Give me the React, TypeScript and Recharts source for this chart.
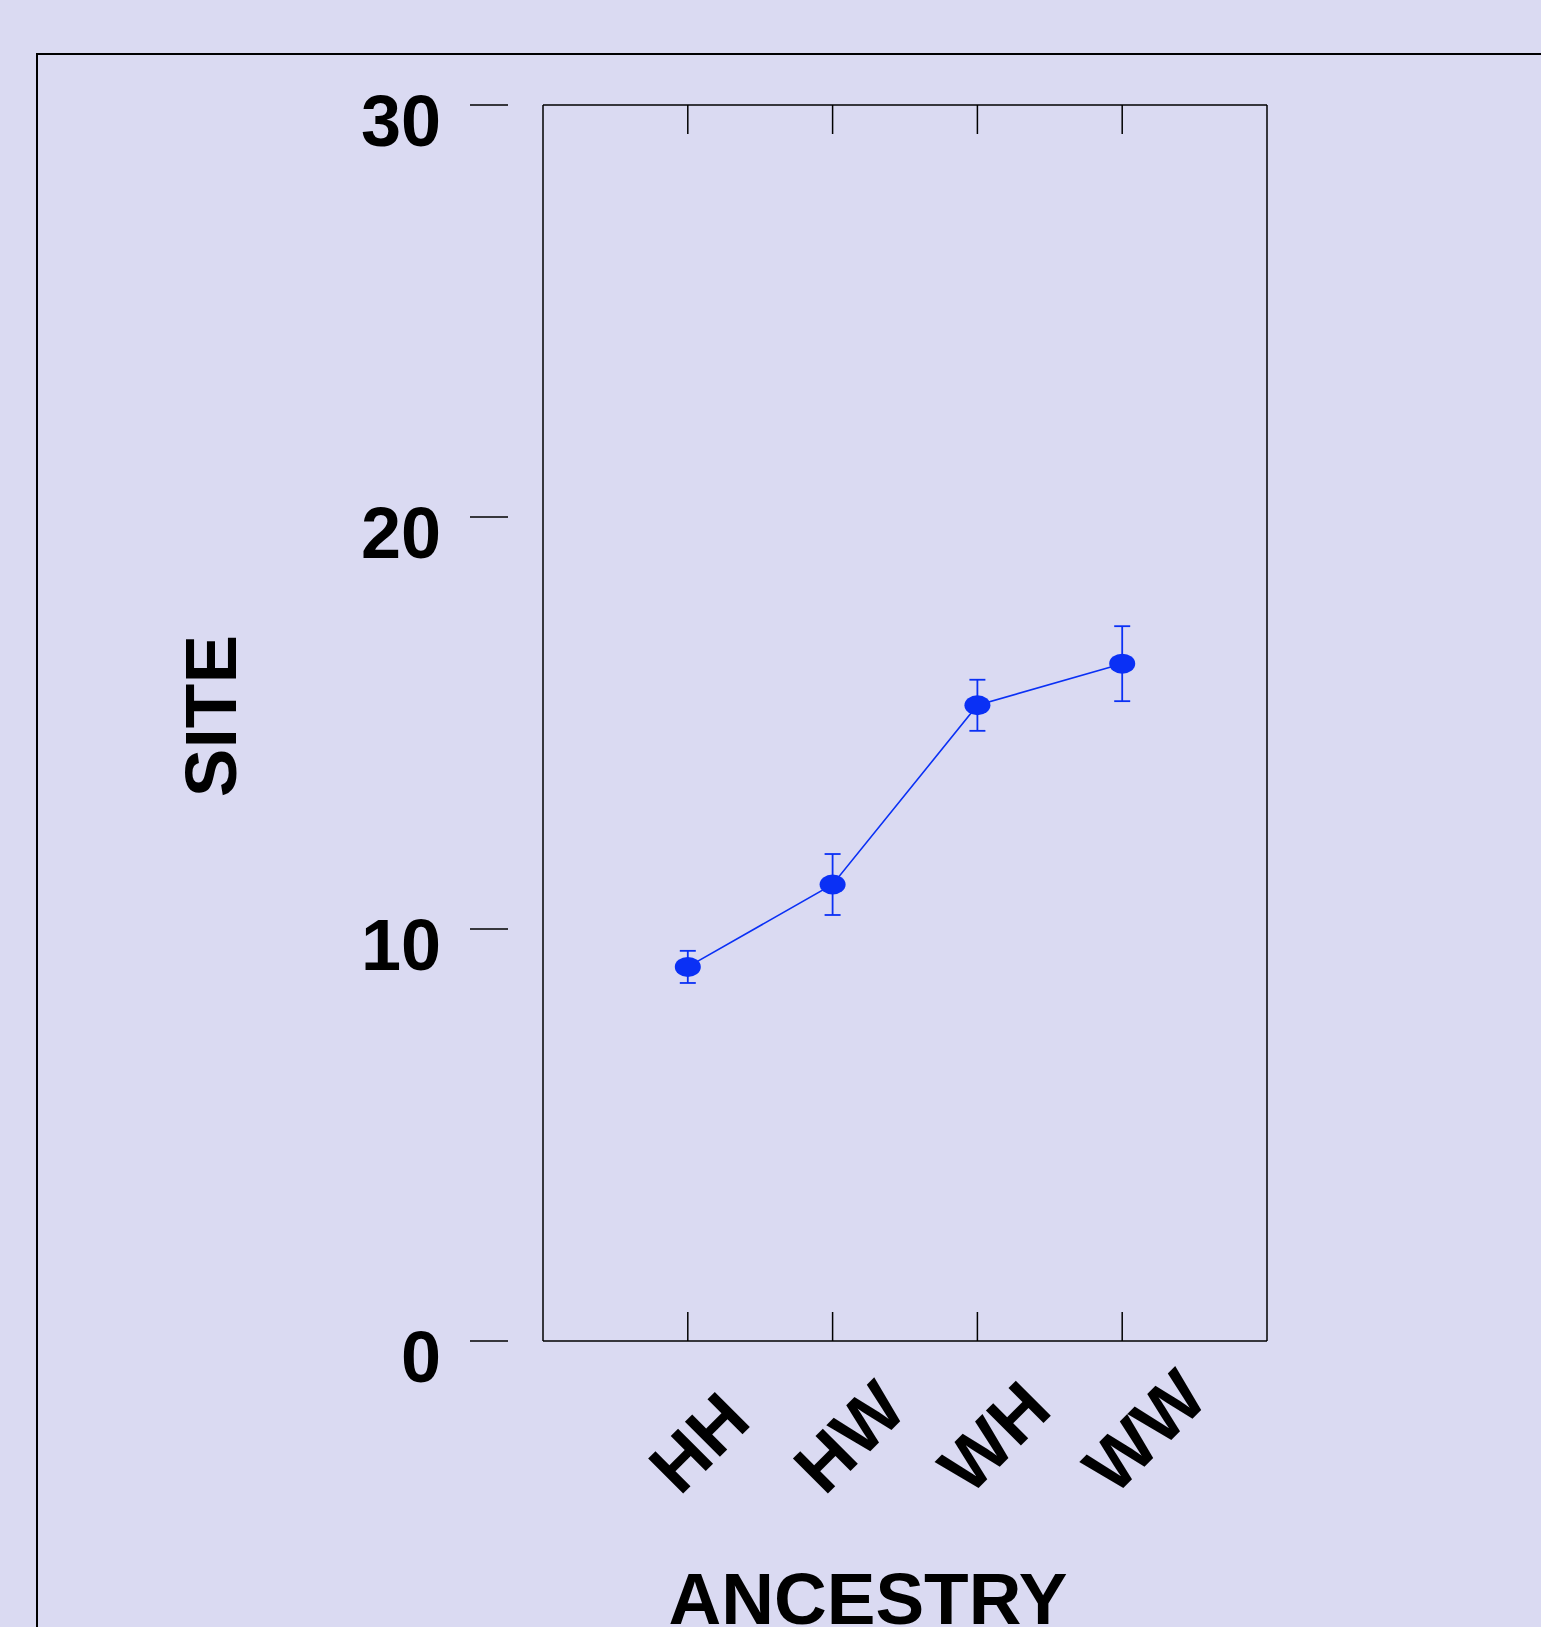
import { ErrorBar, Line, LineChart, XAxis, YAxis } from "recharts";

const categories = ["HH", "HW", "WH", "WW"];
const siteMeans = [9.08, 11.08, 15.43, 16.44];
const siteErrors = [0.39, 0.74, 0.62, 0.91];
const yTicks = [0, 10, 20, 30];
const xPositions = [1, 2, 3, 4];

const data = categories.map((c, i) => ({
  pos: xPositions[i],
  ancestry: c,
  site: siteMeans[i],
  err: siteErrors[i],
}));

const BLUE = "#0a30f5";
const FONT = '"Liberation Sans", Arial, sans-serif';

const BottomTick = ({ x, y, payload }: any) => {
  const tx = x - 8;
  const ty = y + 156;
  return (
    <g>
      <line x1={x} y1={y} x2={x} y2={y - 29} stroke="#000" strokeWidth={1.5} />
      <text
        x={tx}
        y={ty}
        transform={`rotate(-45, ${tx}, ${ty})`}
        textAnchor="start"
        fontSize={72}
        fontWeight="bold"
        fontFamily={FONT}
        fill="#000"
      >
        {categories[payload.value - 1]}
      </text>
    </g>
  );
};

const TopTick = ({ x, y }: any) => (
  <line x1={x} y1={y} x2={x} y2={y + 29} stroke="#000" strokeWidth={1.5} />
);

const LeftTick = ({ x, y, payload }: any) => (
  <g>
    <line x1={x - 73} y1={y} x2={x - 35} y2={y} stroke="#000" strokeWidth={1.5} />
    <text
      x={x - 102}
      y={y + 41}
      textAnchor="end"
      fontSize={72}
      fontWeight="bold"
      fontFamily={FONT}
      fill="#000"
    >
      {payload.value}
    </text>
  </g>
);

const RightTick = ({ x, y }: any) => (
  <line x1={x - 39} y1={y} x2={x} y2={y} stroke="#000" strokeWidth={1.5} />
);

const Dot = (props: any) => (
  <ellipse
    key={`dot-${props.index}`}
    cx={props.cx}
    cy={props.cy}
    rx={13}
    ry={10}
    fill={BLUE}
  />
);

const xTitle = ({ viewBox }: any) => (
  <text
    x={868}
    y={viewBox.y + 283}
    textAnchor="middle"
    fontSize={73}
    fontWeight="bold"
    fontFamily={FONT}
    fill="#000"
  >
    ANCESTRY
  </text>
);

const yTitle = () => {
  const cx = 236;
  const cy = 716;
  return (
    <text
      x={cx}
      y={cy}
      transform={`rotate(-90, ${cx}, ${cy})`}
      textAnchor="middle"
      fontSize={73}
      fontWeight="bold"
      fontFamily={FONT}
      fill="#000"
    >
      SITE
    </text>
  );
};

const axisLine = { stroke: "#000", strokeWidth: 1.5 };

export default function App() {
  return (
    <div
      style={{
        position: "absolute",
        left: 0,
        top: 0,
        width: 1541,
        height: 1627,
        background: "#dadaf2",
        overflow: "hidden",
      }}
    >
      <div
        style={{
          position: "absolute",
          left: 36,
          top: 53,
          width: 1700,
          height: 1800,
          borderLeft: "2px solid #000",
          borderTop: "2px solid #000",
        }}
      />
      <LineChart
        width={1541}
        height={1627}
        data={data}
        margin={{ top: 104, right: 273, bottom: 285, left: 542 }}
        style={{ position: "absolute", left: 0, top: 0 }}
      >
        <XAxis
          xAxisId="bottom"
          dataKey="pos"
          type="number"
          domain={[0, 5]}
          ticks={xPositions}
          interval={0}
          height={1}
          tickSize={0}
          tickMargin={0}
          tickLine={false}
          axisLine={axisLine}
          tick={<BottomTick />}
          label={{ content: xTitle }}
        />
        <XAxis
          xAxisId="top"
          orientation="top"
          dataKey="pos"
          type="number"
          domain={[0, 5]}
          ticks={xPositions}
          interval={0}
          height={1}
          tickSize={0}
          tickMargin={0}
          tickLine={false}
          axisLine={axisLine}
          tick={<TopTick />}
        />
        <YAxis
          yAxisId="left"
          type="number"
          domain={[0, 30]}
          ticks={yTicks}
          interval={0}
          width={1}
          tickSize={0}
          tickMargin={0}
          tickLine={false}
          axisLine={axisLine}
          tick={<LeftTick />}
          label={{ content: yTitle }}
        />
        <YAxis
          yAxisId="right"
          orientation="right"
          type="number"
          domain={[0, 30]}
          ticks={yTicks}
          interval={0}
          width={1}
          tickSize={0}
          tickMargin={0}
          tickLine={false}
          axisLine={axisLine}
          tick={<RightTick />}
        />
        <Line
          xAxisId="bottom"
          yAxisId="left"
          type="linear"
          dataKey="site"
          stroke={BLUE}
          strokeWidth={1.6}
          dot={Dot}
          activeDot={false}
          isAnimationActive={false}
        >
          <ErrorBar
            dataKey="err"
            width={8}
            stroke={BLUE}
            strokeWidth={1.8}
            isAnimationActive={false}
          />
        </Line>
      </LineChart>
    </div>
  );
}
